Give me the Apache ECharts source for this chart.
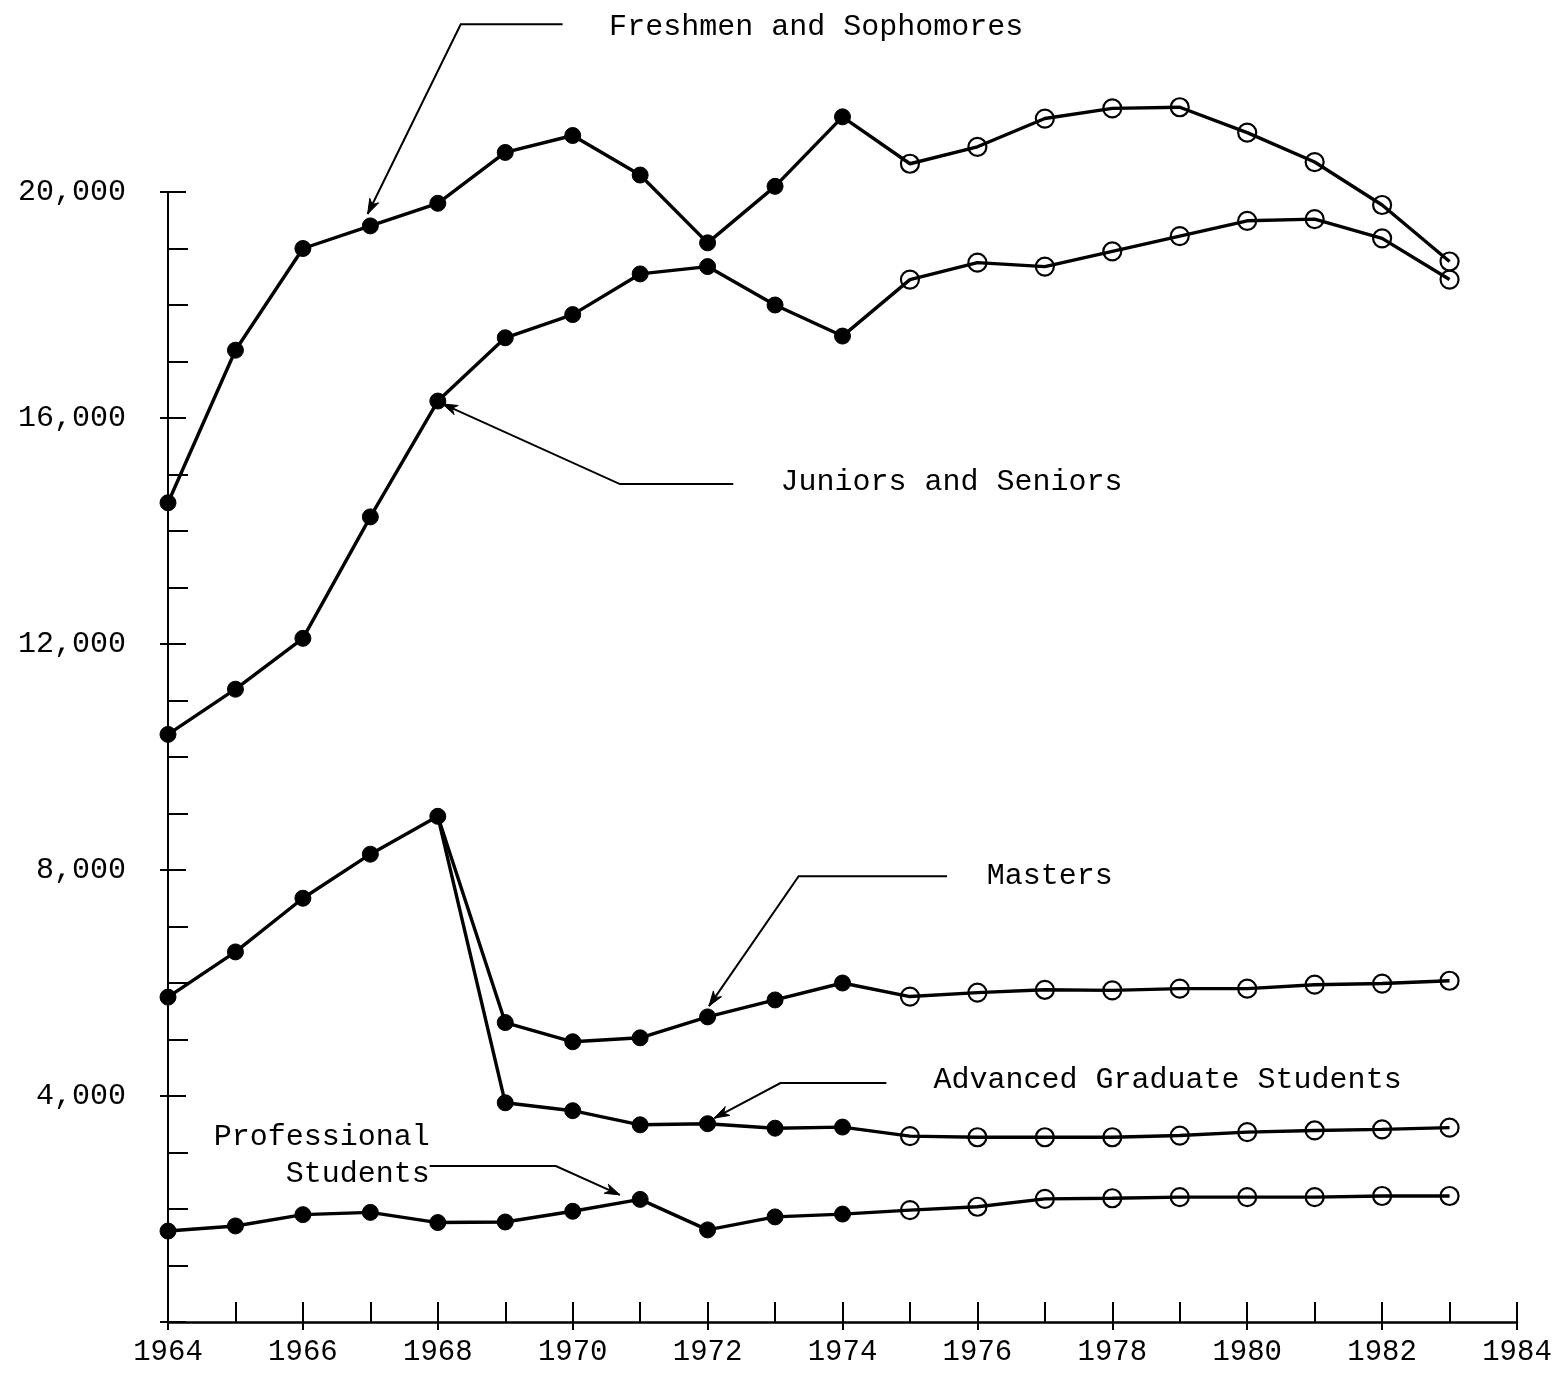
<!DOCTYPE html>
<html>
<head>
<meta charset="utf-8">
<script src="https://cdn.jsdelivr.net/npm/echarts@6/dist/echarts.min.js"></script>
<style>
  html, body { margin: 0; padding: 0; background: #fff; }
  #chart { width: 1563px; height: 1376px; }
</style>
</head>
<body>
<div id="chart"></div>
<script>
// ---- data ----
const years = [1964, 1965, 1966, 1967, 1968, 1969, 1970, 1971, 1972, 1973,
               1974, 1975, 1976, 1977, 1978, 1979, 1980, 1981, 1982, 1983];
const lastActualYear = 1974; // filled dots up to here, open circles after
const freshmenSophomores = [14500, 17200, 19000, 19400, 19800, 20700, 21000, 20300, 19100, 20100,
                            21330, 20500, 20800, 21300, 21480, 21500, 21050, 20530, 19770, 18770];
const juniorsSeniors = [10400, 11200, 12100, 14250, 16300, 17420, 17830, 18550, 18680, 18000,
                        17450, 18450, 18750, 18680, 18950, 19220, 19490, 19520, 19180, 18450];
const masters = [5750, 6550, 7500, 8280, 8950, 5300, 4960, 5030, 5400, 5700,
                 6000, 5760, 5830, 5880, 5870, 5900, 5900, 5970, 5990, 6040];
const advancedGraduate = [null, null, null, null, 8950, 3880, 3740, 3490, 3510, 3430,
                          3450, 3290, 3270, 3270, 3270, 3300, 3360, 3390, 3410, 3440];
const professional = [1610, 1700, 1900, 1940, 1760, 1770, 1960, 2170, 1630, 1860,
                      1910, 1980, 2040, 2180, 2190, 2210, 2210, 2210, 2230, 2230];
const yTickValues = [4000, 8000, 12000, 16000, 20000];
const xTickLabels = ['1964','1966','1968','1970','1972','1974','1976','1978','1980','1982','1984'];

// annotation layout (data coordinates)
const annotations = [
  { text: 'Freshmen and Sophomores', at: [1970.54, 22920], align: 'left',
    path: [[1969.85, 22970], [1968.34, 22970], [1966.96, 19610]] },
  { text: 'Juniors and Seniors', at: [1973.08, 14870], align: 'left',
    path: [[1972.38, 14830], [1970.70, 14830], [1968.07, 16250]] },
  { text: 'Masters', at: [1976.14, 7890], align: 'left',
    path: [[1975.55, 7890], [1973.35, 7890], [1972.02, 5590]] },
  { text: 'Advanced Graduate Students', at: [1975.35, 4280], align: 'left',
    path: [[1974.65, 4230], [1973.08, 4230], [1972.10, 3610]] },
  { text: 'Professional\nStudents', at: [1967.88, 2945], align: 'right',
    path: [[1967.88, 2760], [1969.75, 2760], [1970.70, 2250]] }
];

const FONT = '"Liberation Mono", "DejaVu Sans Mono", monospace';

function buildData(values, hideFirstSymbol) {
  return values.map((v, i) => {
    if (v == null) return { value: [years[i], null] };
    const actual = years[i] <= lastActualYear;
    const first = hideFirstSymbol && (i === 0 || values[i - 1] == null);
    return {
      value: [years[i], v],
      symbolSize: first ? 0 : (actual ? 16 : 18),
      itemStyle: actual
        ? { color: '#000', borderColor: '#000', borderWidth: 1 }
        : { color: 'rgba(0,0,0,0)', borderColor: '#000', borderWidth: 2.2 }
    };
  });
}

function lineSeries(name, values, hideFirst) {
  return {
    name: name,
    type: 'line',
    xAxisIndex: 0,
    yAxisIndex: 0,
    clip: false,
    symbol: 'circle',
    showAllSymbol: true,
    connectNulls: false,
    lineStyle: { color: '#000', width: 3.4 },
    emphasis: { disabled: true },
    data: buildData(values, hideFirst),
    z: 3
  };
}

const chart = echarts.init(document.getElementById('chart'), null, { renderer: 'canvas' });

const xCommon = { type: 'value', min: 1964, max: 1984, interval: 2, gridIndex: 0, splitLine: { show: false } };
const yCommon = { type: 'value', min: 0, max: 20000, interval: 4000, gridIndex: 0, splitLine: { show: false } };

chart.setOption({
  animation: false,
  backgroundColor: '#fff',
  grid: { left: 168, right: 46, top: 192, bottom: 54, containLabel: false },
  xAxis: [
    Object.assign({}, xCommon, {
      position: 'bottom',
      axisLine: { show: true, lineStyle: { color: '#000', width: 2.5 } },
      axisTick: { show: true, inside: true, length: 20, lineStyle: { color: '#000', width: 2 } },
      minorTick: { show: true, splitNumber: 2, length: 20, lineStyle: { color: '#000', width: 2 } },
      axisLabel: {
        show: true, margin: 16, color: '#000', fontSize: 29, fontFamily: FONT,
        showMinLabel: true, showMaxLabel: true,
        formatter: function (v) {
          const idx = Math.round((v - 1964) / 2);
          return xTickLabels[idx] || '';
        }
      }
    }),
    Object.assign({}, xCommon, {
      position: 'bottom',
      axisLine: { show: false },
      axisTick: { show: true, inside: false, length: 8, lineStyle: { color: '#000', width: 2 } },
      axisLabel: { show: false }
    })
  ],
  yAxis: [
    Object.assign({}, yCommon, {
      position: 'left',
      axisLine: { show: true, lineStyle: { color: '#000', width: 2 } },
      axisTick: { show: true, inside: true, length: 18, lineStyle: { color: '#000', width: 2 } },
      minorTick: { show: true, splitNumber: 4, length: 20, lineStyle: { color: '#000', width: 2 } },
      axisLabel: {
        show: true, margin: 42, color: '#000', fontSize: 30, fontFamily: FONT,
        formatter: function (v) {
          return yTickValues.indexOf(v) >= 0 ? v.toLocaleString('en-US') : '';
        }
      }
    }),
    Object.assign({}, yCommon, {
      position: 'left',
      axisLine: { show: false },
      axisTick: { show: true, inside: false, length: 8, lineStyle: { color: '#000', width: 2 } },
      axisLabel: { show: false }
    })
  ],
  series: [
    lineSeries('Freshmen and Sophomores', freshmenSophomores, false),
    lineSeries('Juniors and Seniors', juniorsSeniors, false),
    lineSeries('Masters', masters, false),
    lineSeries('Advanced Graduate Students', advancedGraduate, true),
    lineSeries('Professional Students', professional, false)
  ]
});

// ---- annotations ----
function px(p) { return chart.convertToPixel({ xAxisIndex: 0, yAxisIndex: 0 }, p); }
const graphics = [];
annotations.forEach(a => {
  const t = px(a.at);
  graphics.push({
    type: 'text', x: t[0], y: t[1], z: 10,
    style: {
      text: a.text, fill: '#000', font: '30px ' + FONT,
      textAlign: a.align, textVerticalAlign: 'middle', lineHeight: 37
    }
  });
  const pts = a.path.map(px);
  graphics.push({
    type: 'polyline', z: 10,
    shape: { points: pts },
    style: { stroke: '#000', lineWidth: 2, fill: null }
  });
  const tip = pts[pts.length - 1], prev = pts[pts.length - 2];
  const dx = tip[0] - prev[0], dy = tip[1] - prev[1];
  const len = Math.sqrt(dx * dx + dy * dy);
  const ux = dx / len, uy = dy / len;
  const L = 15, W = 5;
  graphics.push({
    type: 'polygon', z: 10,
    shape: { points: [
      [tip[0], tip[1]],
      [tip[0] - L * ux - W * uy, tip[1] - L * uy + W * ux],
      [tip[0] - L * 0.7 * ux, tip[1] - L * 0.7 * uy],
      [tip[0] - L * ux + W * uy, tip[1] - L * uy - W * ux]
    ] },
    style: { fill: '#000', stroke: '#000', lineWidth: 1 }
  });
});
chart.setOption({ graphic: graphics });
</script>
</body>
</html>
